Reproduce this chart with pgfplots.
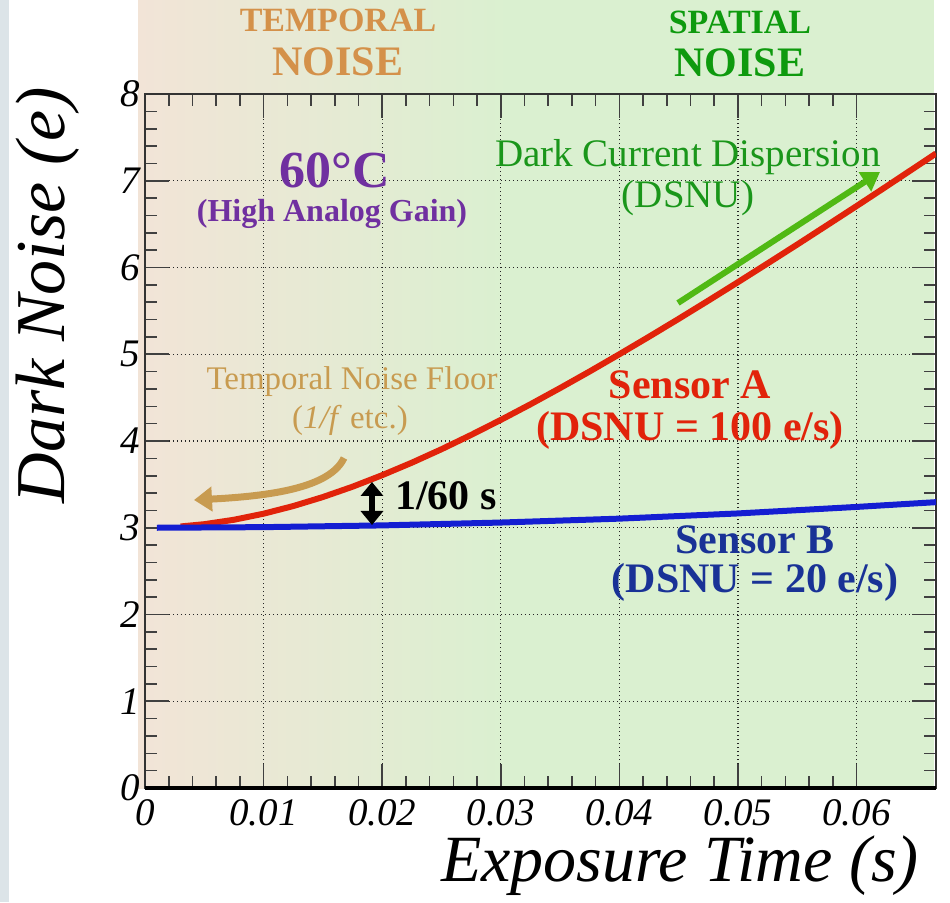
\documentclass[border=0pt]{standalone}
\usepackage{fontspec}
\setmainfont{Liberation Serif}
\usepackage{pgfplots}
\pgfplotsset{compat=1.18}
\usetikzlibrary{arrows.meta}
\definecolor{peach}{RGB}{242,228,215}
\definecolor{mint}{RGB}{218,240,208}
\definecolor{strip}{RGB}{220,228,232}
\definecolor{temporange}{RGB}{212,145,74}
\definecolor{spatgreen}{RGB}{14,154,14}
\definecolor{dcgreen}{RGB}{26,150,26}
\definecolor{arrgreen}{RGB}{80,185,20}
\definecolor{hotpurple}{RGB}{112,48,160}
\definecolor{tan}{RGB}{200,155,80}
\definecolor{sensred}{RGB}{225,35,10}
\definecolor{curveblue}{RGB}{20,30,210}
\definecolor{textblue}{RGB}{25,50,150}
\begin{document}
\begin{tikzpicture}
\path[use as bounding box] (0pt,0pt) rectangle (475pt,451pt);
\fill[strip] (0pt,0pt) rectangle (4.5pt,451pt);
\shade[left color=peach, right color=mint] (69pt,57pt) rectangle (255pt,451pt);
\fill[mint] (254.5pt,57pt) rectangle (467pt,451pt);
\begin{axis}[
  at={(72.5pt,57pt)}, anchor=south west,
  scale only axis, width=395.5pt, height=347pt,
  xmin=0, xmax=0.0667, ymin=0, ymax=8,
  scaled x ticks=false,
  xtick={0,0.01,0.02,0.03,0.04,0.05,0.06},
  xticklabels={0,0.01,0.02,0.03,0.04,0.05,0.06},
  ytick={0,1,...,8}, yticklabels={0,1,2,3,4,5,6,7,8},
  minor x tick num=4, minor y tick num=4,
  major tick length=12pt, minor tick length=6pt,
  tick style={black!75, line width=0.8pt},
  tick align=inside,
  grid=major,
  major grid style={black!85, line width=0.6pt, dash pattern=on 0.6pt off 1.4pt},
  axis line style={black!80, line width=1.1pt},
  ticklabel style={font=\fontsize{19.5}{20}\selectfont\itshape},
  xticklabel style={yshift=-2pt},
  yticklabel style={xshift=1pt},
  xlabel={Exposure Time (s)}, ylabel={Dark Noise (e)},
  every axis x label/.style={at={(rel axis cs:1,0)}, anchor=east, xshift=-5pt, yshift=-39pt,
    font=\fontsize{33}{36}\selectfont\itshape},
  every axis y label/.style={at={(rel axis cs:0,0.71)}, rotate=90, anchor=center, yshift=48.5pt,
    font=\fontsize{35}{38}\selectfont\itshape},
  ]
\addplot[sensred, line width=3pt] coordinates {
 (0.003,3.015)(0.005,3.041)(0.0075,3.092)(0.01,3.162)(0.0125,3.250)
 (0.015,3.354)(0.0175,3.473)(0.02,3.606)(0.0225,3.750)(0.025,3.905)
 (0.0275,4.070)(0.03,4.243)(0.0325,4.423)(0.035,4.610)(0.0375,4.802)
 (0.04,5.000)(0.0425,5.202)(0.045,5.408)(0.0475,5.618)(0.05,5.831)
 (0.0525,6.047)(0.055,6.265)(0.0575,6.486)(0.06,6.708)(0.0625,6.933)
 (0.0667,7.314)};
\addplot[curveblue, line width=3pt] coordinates {
 (0.001,3.000)(0.01,3.007)(0.02,3.027)(0.03,3.060)(0.04,3.105)
 (0.05,3.165)(0.06,3.240)(0.0667,3.295)};
\end{axis}
% heavier bottom frame, as in the reference
\draw[black, line width=1.8pt] (72.5pt,57pt) -- (468pt,57pt);
% headings
\node[temporange, font=\fontsize{17}{18}\selectfont\bfseries] at (169pt,441pt) {TEMPORAL};
\node[temporange, font=\fontsize{21}{22}\selectfont\bfseries] at (169pt,420pt) {NOISE};
\node[spatgreen, font=\fontsize{17}{18}\selectfont\bfseries] at (370pt,440pt) {SPATIAL};
\node[spatgreen, font=\fontsize{21}{22}\selectfont\bfseries] at (370pt,419.5pt) {NOISE};
% annotations
\node[hotpurple, inner sep=0.5pt, font=\fontsize{26}{27}\selectfont\bfseries] at (167.5pt,366pt) {60°C};
\node[hotpurple, inner sep=0.5pt, font=\fontsize{16}{17}\selectfont\bfseries] at (166pt,344pt) {(High Analog Gain)};
\node[dcgreen, font=\fontsize{19.5}{20}\selectfont] at (344pt,372.5pt) {Dark Current Dispersion};
\node[dcgreen, font=\fontsize{19.5}{20}\selectfont] at (344pt,352pt) {(DSNU)};
\draw[arrgreen, line width=3pt, -{Triangle[length=9pt,width=11pt]}] (339pt,299.5pt) -- (440pt,365pt);
\node[tan, font=\fontsize{16.5}{17}\selectfont] at (176pt,260pt) {Temporal Noise Floor};
\node[tan, font=\fontsize{16.5}{17}\selectfont] at (175pt,241pt) {(\textit{1/f} etc.)};
\draw[tan, line width=3.5pt, -{Triangle[length=9pt,width=12pt]}] (172pt,222pt) .. controls (165pt,207pt) and (135pt,203pt) .. (97pt,201pt);
\draw[black, line width=3pt, {Triangle[length=7pt,width=11pt]}-{Triangle[length=7pt,width=11pt]}] (186pt,210pt) -- (186pt,188.5pt);
\node[anchor=west, font=\fontsize{21}{22}\selectfont\bfseries] at (194pt,203pt) {1/60 s};
\node[sensred, font=\fontsize{21}{22}\selectfont\bfseries] at (345pt,258.5pt) {Sensor A};
\node[sensred, font=\fontsize{21}{22}\selectfont\bfseries] at (345pt,236pt) {(DSNU = 100 e/s)};
\node[textblue, font=\fontsize{21}{22}\selectfont\bfseries] at (377.5pt,181pt) {Sensor B};
\node[textblue, font=\fontsize{21}{22}\selectfont\bfseries] at (377.5pt,160pt) {(DSNU = 20 e/s)};
\end{tikzpicture}
\end{document}
